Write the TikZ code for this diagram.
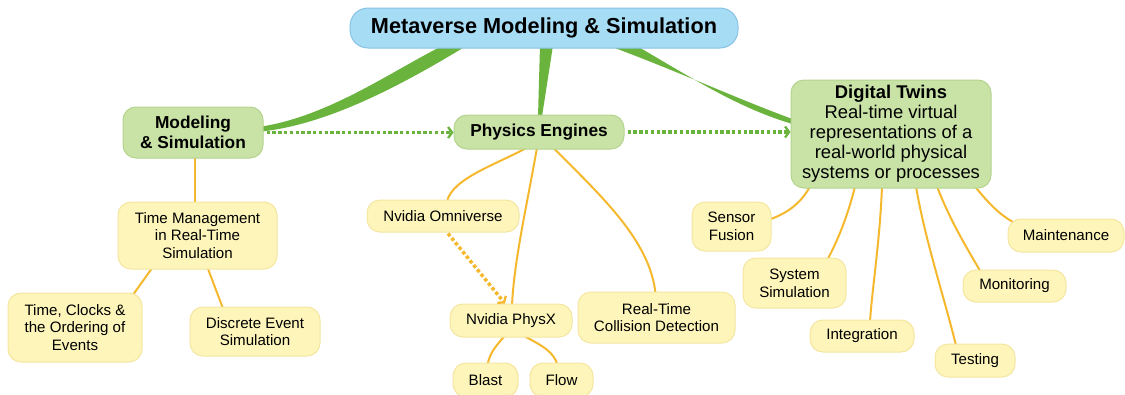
\documentclass[tikz,border=0pt]{standalone}
\usepackage{fontspec}
\setmainfont{Liberation Sans}
\usetikzlibrary{arrows.meta,calc,backgrounds}
\definecolor{tblue}{RGB}{167,220,245}
\definecolor{tblueb}{RGB}{135,195,228}
\definecolor{ngreen}{RGB}{201,227,167}
\definecolor{ngreenb}{RGB}{180,212,142}
\definecolor{nyel}{RGB}{253,245,186}
\definecolor{nyelb}{RGB}{244,230,160}
\definecolor{lgreen}{RGB}{106,180,62}
\definecolor{lorange}{RGB}{245,184,45}
\tikzset{
  box/.style={rounded corners=13pt, inner sep=0pt, align=center, line width=1pt},
  topbox/.style={box, rounded corners=18pt, fill=tblue, draw=tblueb, font=\fontsize{21.7pt}{24pt}\selectfont\bfseries},
  gbox/.style={box, fill=ngreen, draw=ngreenb, font=\fontsize{17.3pt}{19.5pt}\selectfont\bfseries},
  dtbox/.style={box, fill=ngreen, draw=ngreenb, font=\fontsize{18.4pt}{20pt}\selectfont},
  ybox/.style={box, fill=nyel, draw=nyelb, font=\fontsize{15.1pt}{17.7pt}\selectfont},
  twig/.style={draw=lorange, line width=2pt},
  branch/.style={fill=lgreen},
  gdot/.style={draw=lgreen, line width=3.5pt, dash pattern=on 3.4pt off 2.4pt, -{Straight Barb[length=4pt,width=11pt,line width=2.3pt]}},
  odot/.style={draw=lorange, line width=3.5pt, dash pattern=on 3.4pt off 2.4pt, -{Straight Barb[length=4pt,width=11pt,line width=2.3pt]}}
}
\begin{document}
\begin{tikzpicture}[x=1pt,y=-1pt]
\useasboundingbox (0,0) rectangle (1125,394);
% main nodes
\node[topbox, minimum width=388pt, minimum height=40pt] (title) at (544,28) {Metaverse Modeling \& Simulation};
\node[gbox, minimum width=140pt, minimum height=51pt] (mod) at (193,132.5) {Modeling\\\& Simulation};
\node[gbox, minimum width=170pt, minimum height=34pt] (phys) at (539,132) {Physics Engines};
\node[dtbox, minimum width=200pt, minimum height=108pt] (dt) at (891,134) {\textbf{Digital Twins}\\Real-time virtual\\representations of a\\real-world physical\\systems or processes};
% leaves
\node[ybox, minimum width=159pt, minimum height=67pt] (tm) at (197.5,235.5) {Time Management\\in Real-Time\\Simulation};
\node[ybox, minimum width=134pt, minimum height=69pt] (tc) at (75,327.5) {Time, Clocks \&\\the Ordering of\\Events};
\node[ybox, minimum width=130pt, minimum height=49pt] (de) at (255,331.5) {Discrete Event\\Simulation};
\node[ybox, minimum width=152pt, minimum height=32pt] (omni) at (443,216) {Nvidia Omniverse};
\node[ybox, minimum width=122pt, minimum height=33pt] (physx) at (511,320.5) {Nvidia PhysX};
\node[ybox, minimum width=65pt, minimum height=34pt] (blast) at (485.5,380) {Blast};
\node[ybox, minimum width=63pt, minimum height=34pt] (flow) at (561.5,380) {Flow};
\node[ybox, minimum width=157pt, minimum height=51pt] (coll) at (656.5,317.5) {Real-Time\\Collision Detection};
\node[ybox, minimum width=79pt, minimum height=49pt] (sf) at (731.5,226.5) {Sensor\\Fusion};
\node[ybox, minimum width=103pt, minimum height=50pt] (ss) at (794.5,283) {System\\Simulation};
\node[ybox, minimum width=104pt, minimum height=32pt] (integ) at (862,336) {Integration};
\node[ybox, minimum width=80pt, minimum height=33pt] (test) at (975,360.5) {Testing};
\node[ybox, minimum width=103pt, minimum height=32pt] (mon) at (1014.5,286) {Monitoring};
\node[ybox, minimum width=116pt, minimum height=33pt] (maint) at (1066,235.5) {Maintenance};
\begin{pgfonlayer}{background}
% tapered green branches
\fill[branch] ($(title.south)+(-101,-3)$) .. controls (392,71) and (329,116) .. ($(mod.east)+(-2,-6)$)
   -- ($(mod.east)+(-2,-1)$) .. controls (332,124) and (410,80) .. ($(title.south)+(-77,-3)$) -- cycle;
\fill[branch] ($(title.south)+(-4,-3)$) -- ($(phys.north)+(-1,2)$) -- ($(phys.north)+(3,2)$) -- ($(title.south)+(9,-3)$) -- cycle;
\fill[branch] ($(title.south)+(64,-3)$) .. controls (675,70) and (735,98) .. ($(dt.west)+(2,-15)$)
   -- ($(dt.west)+(2,-10)$) .. controls (738,108) and (692,78) .. ($(title.south)+(92,-3)$) -- cycle;
% orange twigs
\draw[twig] ($(mod.south)+(2,-2)$) -- ($(tm.north)+(-2.5,2)$);
\draw[twig] ($(tm.south)+(-45,-2)$) -- ($(tc.north east)+(-10,3)$);
\draw[twig] ($(tm.south)+(10,-2)$) -- ($(de.north)+(-32,2)$);
\draw[twig] ($(phys.south)+(-12,-2)$) .. controls (500,163) and (452,178) .. ($(omni.north)+(4,2)$);
\draw[twig] ($(phys.south)+(-2,-2)$) .. controls (528,200) and (514,260) .. ($(physx.north)+(1,2)$);
\draw[twig] ($(phys.south)+(14,-2)$) .. controls (600,195) and (650,240) .. ($(coll.north)+(-1,2)$);
\draw[twig] ($(physx.south)+(-6,-2)$) .. controls (495,347) and (490,353) .. ($(blast.north)+(2,2)$);
\draw[twig] ($(physx.south)+(12,-2)$) .. controls (545,347) and (553,352) .. ($(flow.north)+(-4,2)$);
\draw[twig] ($(dt.south)+(-81,-2)$) .. controls (800,205) and (785,214) .. ($(sf.east)+(-2,-7)$);
\draw[twig] ($(dt.south)+(-36,-2)$) .. controls (848,215) and (838,240) .. ($(ss.north)+(33,2)$);
\draw[twig] ($(dt.south)+(-9,-2)$) .. controls (880,240) and (872,290) .. ($(integ.north)+(8,2)$);
\draw[twig] ($(dt.south)+(25,-2)$) .. controls (925,240) and (945,300) .. ($(test.north)+(-19,2)$);
\draw[twig] ($(dt.south)+(46,-2)$) .. controls (950,220) and (965,245) .. ($(mon.north)+(-34,2)$);
\draw[twig] ($(dt.south)+(84,-2)$) .. controls (990,205) and (1000,215) .. ($(maint.north west)+(8,5)$);
\end{pgfonlayer}
% dotted arrows
\draw[gdot, shorten <=3pt] (mod.east) -- (mod.east -| phys.west);
\draw[gdot, shorten <=3pt] (phys.east) -- (phys.east -| dt.west);
\draw[odot] ($(omni.south)+(5,1)$) -- ($(physx.north)+(-6,0)$);
\end{tikzpicture}
\end{document}
